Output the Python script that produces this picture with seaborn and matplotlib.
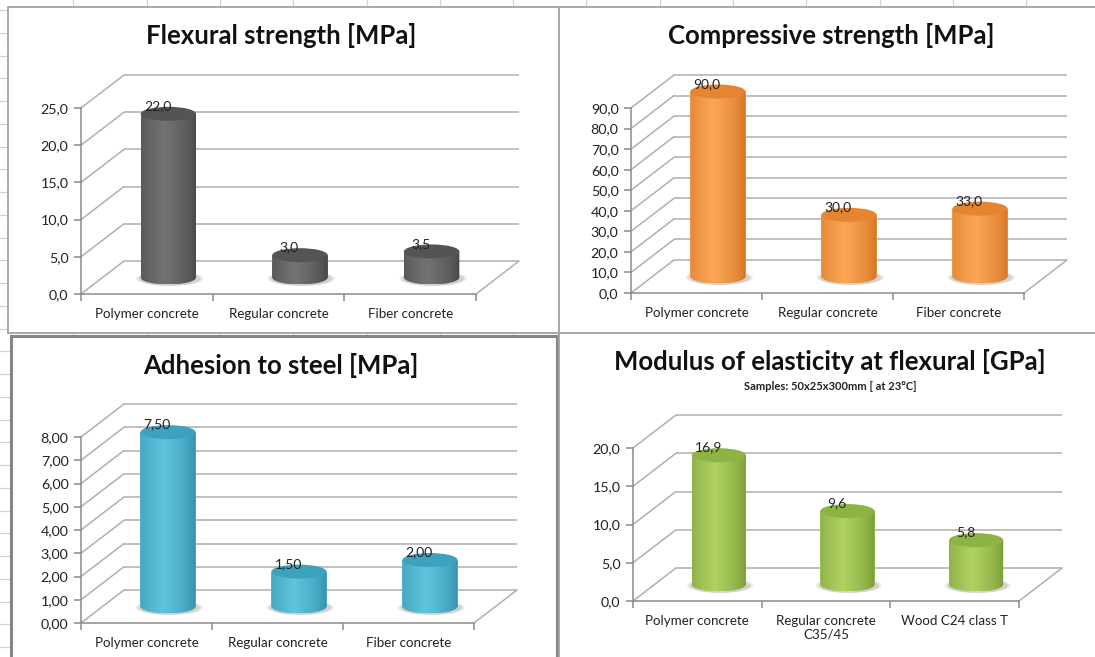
import numpy as np
import pandas as pd
import matplotlib
matplotlib.use("Agg")
import matplotlib.pyplot as plt
import matplotlib.colors as mcolors
import seaborn as sns
from matplotlib.patches import Rectangle, Ellipse, PathPatch
from matplotlib.path import Path
from matplotlib.lines import Line2D
from matplotlib.ticker import FuncFormatter

# ---- data -------------------------------------------------------------
categories = ["Polymer concrete", "Regular concrete", "Fiber concrete"]
categories_modulus = ["Polymer concrete", "Regular concrete\nC35/45", "Wood C24 class T"]

flexural_strength = [22.0, 3.0, 3.5]
compressive_strength = [90.0, 30.0, 33.0]
adhesion_to_steel = [7.50, 1.50, 2.00]
modulus_of_elasticity = [16.9, 9.6, 5.8]

titles = ["Flexural strength [MPa]", "Compressive strength [MPa]",
          "Adhesion to steel [MPa]", "Modulus of elasticity at flexural [GPa]"]
subtitle_modulus = "Samples: 50x25x300mm [ at 23°C]"

# ---- style ------------------------------------------------------------
sns.set_theme(style="white")
plt.rcParams["font.family"] = ["Lato", "DejaVu Sans"]

W, H = 1095, 657
fig = plt.figure(figsize=(W / 100, H / 100), dpi=100, facecolor="white")

DEPTH_X, DEPTH_Y = 43, 33     # pixel offset of the back wall
ELL_B = 7                     # half height of the cylinder ellipses (px)
GRID = "#afafaf"
AXIS = "#8a8a8a"

palettes = {
    "gray":   dict(edge="#444444", light="#737373", top="#545454"),
    "orange": dict(edge="#d0701f", light="#fba656", top="#e58431"),
    "blue":   dict(edge="#2f8daa", light="#60c4dc", top="#3ca2be"),
    "green":  dict(edge="#759630", light="#afd262", top="#8db442"),
}


def fxy(x, y):
    return x / W, 1 - y / H


# spreadsheet cell grid behind the panels
for k in range(1, 16):
    x = 73.3 * k
    fig.add_artist(Line2D([x / W, x / W], [0, 1], color="#d2d2d2", lw=0.9, zorder=-3))
for k in range(0, 30):
    y = 10 + 22.75 * k
    fig.add_artist(Line2D([0, 1], [1 - y / H, 1 - y / H], color="#d2d2d2", lw=0.9, zorder=-3))

# panel frames (left, top, right, bottom in px)
frames = [((8, 7, 559, 333), "#a3a3a3", 1.3),
          ((559, 7, 1100, 333), "#a3a3a3", 1.3),
          ((11, 336, 557, 665), "#858585", 2.2),
          ((559, 333, 1100, 665), "#a3a3a3", 1.3)]
for (l, t, r, b), ec, lw in frames:
    x, y = fxy(l, b)
    fig.add_artist(Rectangle((x, y), (r - l) / W, (b - t) / H, transform=fig.transFigure,
                             facecolor="white", edgecolor=ec, lw=lw, zorder=-2))


def gradient_image(pal, n=128):
    t = np.linspace(0, 1, n)
    f = np.clip(1 - np.abs(t - 0.42) / 0.58, 0, 1) ** 0.6
    edge = np.array(mcolors.to_rgb(pal["edge"]))
    light = np.array(mcolors.to_rgb(pal["light"]))
    rgb = edge[None, :] + (light - edge)[None, :] * f[:, None]
    return rgb[None, :, :]


def draw_panel(box, cats, vals, ymax, step, decimals, pal, title, title_xy, sub=None):
    x0, x1, y0, ytop = box
    ax = fig.add_axes([x0 / W, 1 - y0 / H, (x1 - x0) / W, (y0 - ytop) / H])
    ax.set_facecolor("none")
    cat_px = (x1 - x0) / len(cats)
    unit_px = (y0 - ytop) / ymax
    dxd = DEPTH_X / cat_px
    dyd = DEPTH_Y / unit_px
    b = ELL_B / unit_px

    df = pd.DataFrame({"category": cats, "value": vals})
    sns.barplot(data=df, x="category", y="value", ax=ax, width=0.42,
                color=pal["light"], saturation=1, errorbar=None, zorder=3)

    grad = gradient_image(pal)
    for p, v in zip(ax.patches, vals):
        # place each bar at half depth
        p.set_x(p.get_x() + dxd / 2)
        p.set_y(p.get_y() + dyd / 2)
        p.set_edgecolor("none")
        p.set_clip_on(False)
        bx, bw, bh, base = p.get_x(), p.get_width(), p.get_height(), p.get_y()
        cx = bx + bw / 2
        # soft floor shadow
        for k, a in ((1.22, 0.18), (1.12, 0.25)):
            ax.add_patch(Ellipse((cx + 0.01, base - b * 0.15), bw * k, 2 * b * 1.05,
                                 facecolor="#8c8c8c", alpha=a, edgecolor="none",
                                 zorder=2, clip_on=False))
        # shaded cylinder body
        t = np.linspace(np.pi, 2 * np.pi, 60)
        verts = [(bx, base + bh)] + list(zip(cx + bw / 2 * np.cos(t), base + b * np.sin(t))) \
            + [(bx + bw, base + bh), (bx, base + bh)]
        clip = PathPatch(Path(verts), transform=ax.transData)
        im = ax.imshow(grad, extent=(bx, bx + bw, base - b, base + bh), aspect="auto",
                       interpolation="bilinear", origin="lower", zorder=3.5)
        im.set_clip_path(clip)
        im.set_clip_box(fig.bbox)
        # top cap
        ax.add_patch(Ellipse((cx, base + bh), bw, 2 * b, facecolor=pal["top"],
                             edgecolor="none", zorder=4, clip_on=False))
        # value label
        ax.text(p.get_x() - dxd / 2 + bw / 2 + dxd / 4, v + dyd / 4 + 16 / unit_px,
                f"{v:.{decimals}f}".replace(".", ","), ha="center", va="center",
                fontsize=10, color="#222222", zorder=5, clip_on=False)

    # back wall, side wall and floor
    ticks = np.arange(0, ymax + step / 2, step)
    ax.hlines(ticks + dyd, -0.5 + dxd, len(cats) - 0.5 + dxd, colors=GRID,
              linewidths=1.1, zorder=1, clip_on=False)
    for tv in ticks:
        ax.plot([-0.5, -0.5 + dxd], [tv, tv + dyd], color=GRID, lw=1.1, zorder=1, clip_on=False)
    ax.plot([len(cats) - 0.5, len(cats) - 0.5 + dxd], [0, dyd], color=GRID, lw=1.1,
            zorder=1, clip_on=False)

    ax.set_xlim(-0.5, len(cats) - 0.5)
    ax.set_ylim(0, ymax)
    for s in ("top", "right"):
        ax.spines[s].set_visible(False)
    for s in ("left", "bottom"):
        ax.spines[s].set_color(AXIS)
        ax.spines[s].set_linewidth(1.1)

    ax.set_yticks(ticks)
    ax.yaxis.set_major_formatter(FuncFormatter(
        lambda val, _: f"{val:.{decimals}f}".replace(".", ",")))
    ax.tick_params(axis="y", direction="out", length=5, width=1.1, color=AXIS,
                   labelsize=10.3, pad=4, labelcolor="#222222", left=True)
    ax.set_xticks(range(len(cats)))
    ax.set_xticklabels(cats)
    ax.set_xticks(np.arange(-0.5, len(cats)), minor=True)
    ax.tick_params(axis="x", which="major", length=0, pad=10, labelsize=9.6,
                   labelcolor="#222222")
    ax.tick_params(axis="x", which="minor", length=5, width=1.1, direction="out",
                   color=AXIS, bottom=True)
    ax.set_xlabel("")
    ax.set_ylabel("")

    tx, ty = fxy(*title_xy)
    fig.text(tx, ty, title, ha="center", va="center", fontsize=18.5,
             fontweight="bold", color="#111111")
    if sub:
        sx, sy = fxy(title_xy[0], title_xy[1] + 24)
        fig.text(sx, sy, sub, ha="center", va="center", fontsize=8,
                 fontweight="bold", color="#222222")
    return ax


draw_panel((81, 476, 294, 108), categories, flexural_strength, 25, 5, 1,
           palettes["gray"], titles[0], (281, 35))
draw_panel((631, 1024, 293, 108), categories, compressive_strength, 90, 10, 1,
           palettes["orange"], titles[1], (831, 35))
draw_panel((81, 474, 623, 437), categories, adhesion_to_steel, 8, 1, 2,
           palettes["blue"], titles[2], (281, 365))
draw_panel((633, 1019, 601, 448), categories_modulus, modulus_of_elasticity, 20, 5, 1,
           palettes["green"], titles[3], (830, 362), sub=subtitle_modulus)

fig.savefig("out.png", dpi=100)
